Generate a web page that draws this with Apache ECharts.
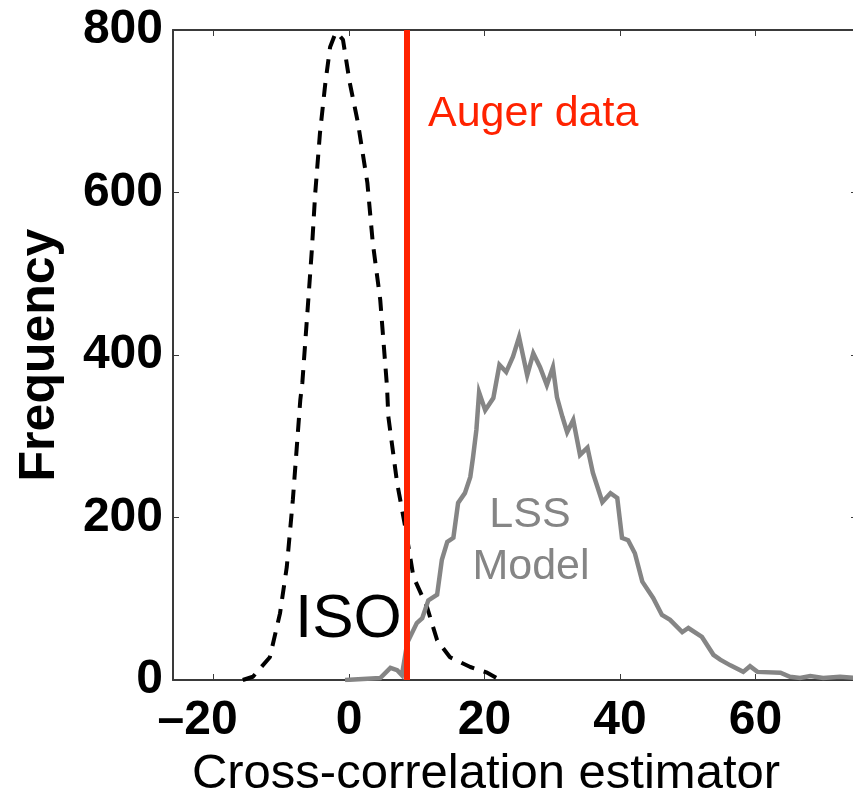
<!DOCTYPE html>
<html>
<head>
<meta charset="utf-8">
<script src="https://cdn.jsdelivr.net/npm/echarts@6/dist/echarts.min.js"></script>
<style>
  html, body { margin: 0; padding: 0; background: #fff; }
  #chart { width: 853px; height: 789px; }
</style>
</head>
<body>
<div id="chart"></div>
<script>
// ---- data ----
const xTicks = [-20, 0, 20, 40, 60];
const yTicks = [0, 200, 400, 600, 800];
const augerValue = [8.5];

// ISO (isotropic) distribution, dashed black
const isoX = [-15.7, -14.2, -11.7, -10.2, -9.2, -8.3, -7.2, -6.9, -6.2, -5.5, -5.0, -4.3, -3.5, -2.8, -2.1, -1.8, -0.9, 0.1, 1.3, 2.7, 3.5, 4.6, 5.6, 5.8, 7.1, 8.3, 9.5, 11.5, 13.0, 14.9, 17.9, 20.4, 22.3];
const isoY = [0, 4, 28, 82, 139, 222, 345, 366, 447, 529, 599, 673, 735, 779, 794, 797, 788, 735, 686, 612, 538, 468, 361, 324, 242, 188, 127, 90, 49, 28, 16, 9, 0];

// LSS model distribution, grey
const lssX = [-0.6, 4.6, 6.1, 7.1, 7.8, 8.6, 10.0, 10.8, 11.7, 13.0, 13.7, 14.5, 15.4, 16.1, 17.1, 17.9, 18.3, 18.8, 19.2, 20.1, 21.3, 22.2, 23.2, 24.2, 25.1, 26.3, 27.2, 28.2, 29.2, 30.1, 30.7, 31.5, 32.2, 33.1, 34.1, 35.2, 36.0, 37.4, 38.6, 39.6, 40.3, 41.2, 42.2, 43.3, 44.9, 46.2, 47.4, 49.2, 50.1, 52.1, 53.8, 54.8, 56.3, 58.2, 59.2, 60.3, 63.7, 65.1, 66.6, 68.1, 70.0, 72.5, 75.0];
const lssY = [0, 2.5, 15, 12, 6, 46, 70, 76, 98, 105, 148, 170, 175, 218, 230, 250, 274, 308, 354, 332, 347, 388, 379, 398, 422, 375, 402, 385, 363, 385, 348, 324, 305, 320, 277, 286, 255, 219, 230, 224, 175, 172, 156, 121, 101, 80, 74, 59, 64, 53, 31, 25, 18, 10, 17, 10, 9, 4, 2.5, 5, 2.5, 4, 2.5];

const xLabelName = 'Cross-correlation estimator';
const yLabelName = 'Frequency';

// ---- chart ----
const FONT = '"Liberation Sans", Arial, Helvetica, sans-serif';
const AXIS_COLOR = '#3a3a3a';
const RED = '#ff2200';
const GREY = '#858585';

const chart = echarts.init(document.getElementById('chart'), null, { renderer: 'canvas' });

const tickStyle = { show: true, inside: true, length: 6, lineStyle: { color: AXIS_COLOR, width: 1 } };

const option = {
  animation: false,
  backgroundColor: '#fff',
  grid: { left: 173, top: 30, right: -4, bottom: 109, containLabel: false, outerBoundsMode: 'none' },
  xAxis: [
    {
      type: 'value', min: -26, max: 75, position: 'bottom',
      name: xLabelName, nameLocation: 'middle', nameGap: 54,
      nameTextStyle: { fontFamily: FONT, fontSize: 49, color: '#000', padding: [0, 58, 0, 0] },
      axisLine: { show: true, onZero: false, lineStyle: { color: AXIS_COLOR, width: 2 } },
      axisTick: Object.assign({}, tickStyle, { customValues: xTicks }),
      axisLabel: {
        customValues: xTicks, margin: 17, color: '#000',
        fontFamily: FONT, fontSize: 48, fontWeight: 'bold',
        formatter: v => v < 0 ? '{neg|\u2013' + Math.abs(v) + '}' : String(v),
        rich: { neg: { fontFamily: FONT, fontSize: 48, fontWeight: 'bold', color: '#000', padding: [0, 32, 0, 0] } }
      },
      splitLine: { show: false }
    },
    {
      type: 'value', min: -26, max: 75, position: 'top',
      axisLine: { show: true, onZero: false, lineStyle: { color: AXIS_COLOR, width: 2 } },
      axisTick: Object.assign({}, tickStyle, { customValues: xTicks }),
      axisLabel: { show: false },
      splitLine: { show: false }
    }
  ],
  yAxis: [
    {
      type: 'value', min: 0, max: 800, interval: 200, position: 'left',
      name: yLabelName, nameLocation: 'middle', nameGap: 108,
      nameTextStyle: { fontFamily: FONT, fontSize: 50, fontWeight: 'bold', color: '#000' },
      axisLine: { show: true, onZero: false, lineStyle: { color: AXIS_COLOR, width: 2 } },
      axisTick: tickStyle,
      axisLabel: { margin: 10, color: '#000', fontFamily: FONT, fontSize: 48, fontWeight: 'bold' },
      splitLine: { show: false }
    },
    {
      type: 'value', min: 0, max: 800, interval: 200, position: 'right',
      axisLine: { show: true, onZero: false, lineStyle: { color: AXIS_COLOR, width: 2 } },
      axisTick: tickStyle,
      axisLabel: { show: false },
      splitLine: { show: false }
    }
  ],
  series: [
    {
      name: 'ISO', type: 'line', xAxisIndex: 0, yAxisIndex: 0,
      data: isoX.map((x, i) => [x, isoY[i]]),
      showSymbol: false, smooth: false,
      lineStyle: { color: '#000', width: 4, type: [14, 10], cap: 'butt' },
      z: 2
    },
    {
      name: 'LSS Model', type: 'line', xAxisIndex: 0, yAxisIndex: 0,
      data: lssX.map((x, i) => [x, lssY[i]]),
      showSymbol: false, smooth: false,
      lineStyle: { color: GREY, width: 4.5, join: 'miter' },
      z: 3,
      markLine: {
        silent: true, symbol: 'none', animation: false,
        label: { show: false },
        lineStyle: { color: RED, width: 6, type: 'solid' },
        data: augerValue.map(v => ({ xAxis: v })),
        z: 5
      }
    }
  ],
  graphic: [
    { type: 'text', left: 428, top: 93, style: { text: 'Auger data', font: '43px ' + FONT, fill: RED } },
    { type: 'text', left: 295, top: 589, style: { text: 'ISO', font: '62px ' + FONT, fill: '#000' } },
    { type: 'text', x: 530, y: 494, style: { text: 'LSS', font: '43px ' + FONT, fill: GREY, align: 'center', verticalAlign: 'top' } },
    { type: 'text', x: 531, y: 546, style: { text: 'Model', font: '43px ' + FONT, fill: GREY, align: 'center', verticalAlign: 'top' } }
  ]
};

chart.setOption(option);
</script>
</body>
</html>
